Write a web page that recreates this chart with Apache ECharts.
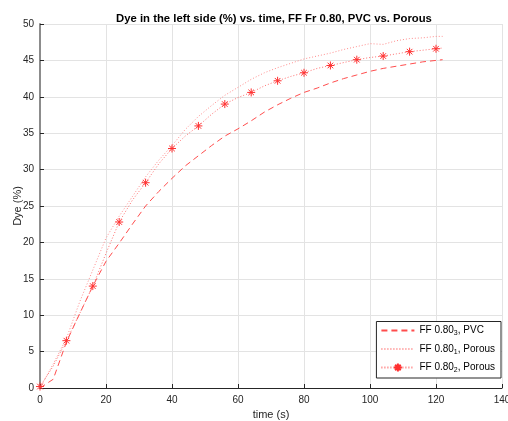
<!DOCTYPE html>
<html>
<head>
<meta charset="utf-8">
<script src="https://cdn.jsdelivr.net/npm/echarts@6/dist/echarts.min.js"></script>
<style>
  html, body { margin: 0; padding: 0; background: #fff; }
  #chart { width: 508px; height: 421px; }
</style>
</head>
<body>
<div id="chart"></div>
<script>
// Sample times (s)
const times = [0, 4, 8, 12, 16, 20, 24, 28, 32, 36, 40, 44, 48, 52, 56, 60,
  64, 68, 72, 76, 80, 84, 88, 92, 96, 100, 104, 108, 112, 116, 120, 122];

// Dye in the left side (%)
const pvc3 = [0, 1.2, 6.3, 10.2, 14.0, 17.4, 19.9, 22.5, 25.0, 27.0, 28.8, 30.5,
  31.9, 33.3, 34.6, 35.6, 36.7, 37.9, 38.9, 39.8, 40.6, 41.2, 41.9, 42.5, 43.0,
  43.5, 43.9, 44.2, 44.5, 44.8, 45.0, 45.1];
const porous1 = [0, 3.3, 6.8, 11.8, 16.2, 20.6, 23.6, 26.3, 29.0, 31.3, 33.3, 35.5,
  37.3, 38.8, 40.2, 41.3, 42.4, 43.3, 44.0, 44.6, 45.2, 45.6, 46.0, 46.5, 46.9,
  47.3, 47.2, 47.7, 48.0, 48.1, 48.3, 48.3];
const porous2 = [0.2, 3.0, 6.5, 10.2, 14.0, 18.5, 22.8, 25.8, 28.2, 30.8, 32.9, 34.6,
  36.0, 37.6, 39.0, 39.9, 40.6, 41.5, 42.2, 42.8, 43.3, 43.9, 44.3, 44.7, 45.1,
  45.4, 45.6, 45.9, 46.2, 46.4, 46.6, 46.7];

const xTicks = [0, 20, 40, 60, 80, 100, 120, 140];
const yTicks = [0, 5, 10, 15, 20, 25, 30, 35, 40, 45, 50];

const seriesNames = ['pvc3', 'porous1', 'porous2'];
const legendLabels = {
  pvc3: '{t|FF 0.80}{s|3}{t|, PVC}',
  porous1: '{t|FF 0.80}{s|1}{t|, Porous}',
  porous2: '{t|FF 0.80}{s|2}{t|, Porous}'
};

const pairs = vals => times.map((t, i) => [t, vals[i]]);

// asterisk marker drawn every 8 s
const star = 'path://M0,-5L0,5M-5,0L5,0M-3.5,-3.5L3.5,3.5M-3.5,3.5L3.5,-3.5';
const markedData = times.map((t, i) => {
  const item = { value: [t, porous2[i]] };
  if (t % 8 !== 0) item.symbol = 'none';
  return item;
});

const font = 'Liberation Sans, Arial, sans-serif';
const axisText = { color: '#262626', fontSize: 10, fontFamily: font };

const chart = echarts.init(document.getElementById('chart'), null, { renderer: 'canvas' });
chart.setOption({
  animation: false,
  backgroundColor: '#ffffff',
  title: {
    text: 'Dye in the left side (%) vs. time, FF Fr 0.80, PVC vs. Porous',
    left: 269, top: 8, textAlign: 'center',
    textStyle: { fontSize: 11.3, fontWeight: 'bold', color: '#000', fontFamily: font }
  },
  grid: { left: 40, right: 6, top: 24, bottom: 33, containLabel: false, outerBoundsMode: 'none' },
  xAxis: {
    type: 'value', min: 0, max: 140, interval: 20,
    name: 'time (s)', nameLocation: 'middle', nameGap: 21, nameMoveOverlap: false,
    nameTextStyle: { color: '#262626', fontSize: 11, fontFamily: font },
    axisLine: { show: true, lineStyle: { color: '#262626', width: 1 } },
    axisTick: { show: true, inside: true, length: 4, lineStyle: { color: '#262626' } },
    axisLabel: Object.assign({ margin: 7, formatter: v => xTicks.includes(v) ? String(v) : '' }, axisText),
    splitLine: { show: true, lineStyle: { color: '#e3e3e3', width: 1 } }
  },
  yAxis: {
    type: 'value', min: 0, max: 50, interval: 5,
    name: 'Dye (%)', nameLocation: 'middle', nameGap: 17, nameRotate: 90, nameMoveOverlap: false,
    nameTextStyle: { color: '#262626', fontSize: 11, fontFamily: font },
    axisLine: { show: true, lineStyle: { color: '#8c8c8c', width: 2 } },
    axisTick: { show: true, inside: true, length: 4, lineStyle: { color: '#262626' } },
    axisLabel: Object.assign({ margin: 6, formatter: v => yTicks.includes(v) ? String(v) : '' }, axisText),
    splitLine: { show: true, lineStyle: { color: '#e3e3e3', width: 1 } }
  },
  legend: {
    orient: 'vertical',
    right: 7, bottom: 43,
    backgroundColor: '#ffffff',
    borderColor: '#262626', borderWidth: 1, borderRadius: 0,
    padding: [4, 6, 4, 4],
    itemWidth: 33, itemHeight: 10, itemGap: 7,
    data: [
      { name: 'pvc3', itemStyle: { opacity: 0 } },
      { name: 'porous1', itemStyle: { opacity: 0 } },
      { name: 'porous2' }
    ],
    formatter: name => legendLabels[name],
    textStyle: {
      color: '#000', fontSize: 10, fontFamily: font,
      rich: {
        t: { fontSize: 10, color: '#000', fontFamily: font },
        s: { fontSize: 7, color: '#000', fontFamily: font, verticalAlign: 'bottom', padding: [6, 0, 0, 0] }
      }
    }
  },
  series: [
    {
      name: 'pvc3', type: 'line', data: pairs(pvc3), symbol: 'none',
      lineStyle: { color: '#ff4d4d', width: 1, type: [6, 4] },
      itemStyle: { color: '#ff4d4d' }
    },
    {
      name: 'porous1', type: 'line', data: pairs(porous1), symbol: 'none',
      lineStyle: { color: '#ff8c8c', width: 1, type: [1, 2] },
      itemStyle: { color: '#ff8c8c' }
    },
    {
      name: 'porous2', type: 'line', data: markedData,
      symbol: star, symbolSize: 8, showAllSymbol: true,
      lineStyle: { color: '#ff6e6e', width: 1, type: [1, 2] },
      itemStyle: { color: '#ff3030', borderColor: '#ff3030', borderWidth: 1 }
    }
  ]
});
</script>
</body>
</html>
